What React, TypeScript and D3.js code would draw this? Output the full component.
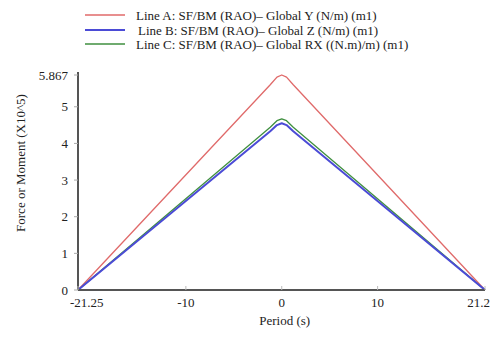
import React, { useRef, useEffect } from "react";
import * as d3 from "d3";

const periods = [-21.25, -1.2, -0.5, 0, 0.5, 1.2, 21.2];
const lineA = [0, 5.6, 5.81, 5.867, 5.81, 5.6, 0];
const lineB = [0, 4.33, 4.5, 4.55, 4.5, 4.33, 0];
const lineC = [0, 4.44, 4.62, 4.67, 4.62, 4.44, 0];

const seriesNames = [
  "Line A: SF/BM (RAO)\u2013 Global Y (N/m) (m1)",
  "Line B: SF/BM (RAO)\u2013 Global Z (N/m) (m1)",
  "Line C: SF/BM (RAO)\u2013 Global RX ((N.m)/m) (m1)",
];
const seriesColors = ["#e06a6a", "#4b4bd6", "#3f8f3f"];

const xTicks = [-21.25, -10, 0, 10, 21.2];
const yTicks = [0, 1, 2, 3, 4, 5, 5.867];

function App() {
  const svgRef = useRef<SVGSVGElement>(null);

  useEffect(() => {
    const svg = d3.select(svgRef.current);
    svg.selectAll("*").remove();

    const left = 78, right = 485, top = 75, bottom = 290;
    const font = "'Liberation Serif', 'Times New Roman', serif";

    const x = d3.scaleLinear().domain([-21.25, 21.2]).range([left, right]);
    const y = d3.scaleLinear().domain([0, 5.867]).range([bottom, top]);

    // legend
    const legend = svg.append("g");
    const legendY = [15, 30, 44];
    seriesNames.forEach((name, i) => {
      legend
        .append("line")
        .attr("x1", 85)
        .attr("x2", 125)
        .attr("y1", legendY[i])
        .attr("y2", legendY[i])
        .attr("stroke", seriesColors[i])
        .attr("stroke-width", i === 1 ? 2 : 1.3);
      legend
        .append("text")
        .attr("x", i === 1 ? 138 : 136)
        .attr("y", legendY[i])
        .attr("dy", "0.35em")
        .attr("font-family", font)
        .attr("font-size", 13)
        .attr("fill", "#222")
        .text(name);
    });

    // lines
    const data = [lineA, lineC, lineB];
    const colors = [seriesColors[0], seriesColors[2], seriesColors[1]];
    const line = d3
      .line<number>()
      .x((_, i) => x(periods[i]))
      .y(d => y(d));
    data.forEach((vals, i) => {
      svg
        .append("path")
        .attr("d", line(vals))
        .attr("fill", "none")
        .attr("stroke", colors[i])
        .attr("stroke-width", i === 2 ? 2 : 1.3)
        .attr("stroke-linejoin", "round");
    });

    // axes
    const axisColor = "#555";
    svg
      .append("line")
      .attr("x1", left).attr("x2", left)
      .attr("y1", top - 3).attr("y2", bottom)
      .attr("stroke", axisColor).attr("stroke-width", 2);
    svg
      .append("line")
      .attr("x1", left).attr("x2", right)
      .attr("y1", bottom).attr("y2", bottom)
      .attr("stroke", axisColor).attr("stroke-width", 2);

    const yg = svg.append("g");
    yTicks.forEach(t => {
      yg.append("line")
        .attr("x1", left - 4).attr("x2", left)
        .attr("y1", y(t)).attr("y2", y(t))
        .attr("stroke", "#aaa");
      yg.append("text")
        .attr("x", left - 10)
        .attr("y", y(t))
        .attr("dy", "0.35em")
        .attr("text-anchor", "end")
        .attr("font-family", font)
        .attr("font-size", 13)
        .attr("fill", "#222")
        .text(t === 5.867 ? "5.867" : d3.format("d")(t));
    });

    const xg = svg.append("g");
    xTicks.forEach((t, i) => {
      xg.append("line")
        .attr("x1", x(t)).attr("x2", x(t))
        .attr("y1", bottom - 4).attr("y2", bottom)
        .attr("stroke", "#bbb");
      const first = i === 0, last = i === xTicks.length - 1;
      xg.append("text")
        .attr("x", first ? x(t) - 8 : last ? 490 : x(t))
        .attr("y", bottom + 17)
        .attr("text-anchor", first ? "start" : last ? "end" : "middle")
        .attr("font-family", font)
        .attr("font-size", 13)
        .attr("fill", "#222")
        .text(String(t));
    });

    svg
      .append("text")
      .attr("x", x(0) + 3)
      .attr("y", 325)
      .attr("text-anchor", "middle")
      .attr("font-family", font)
      .attr("font-size", 13)
      .attr("fill", "#222")
      .text("Period (s)");

    svg
      .append("text")
      .attr("transform", `translate(25, 163) rotate(-90)`)
      .attr("text-anchor", "middle")
      .attr("font-family", font)
      .attr("font-size", 13)
      .attr("fill", "#222")
      .text("Force or Moment (X10^5)");
  }, []);

  return (
    <svg
      ref={svgRef}
      width={491}
      height={341}
      style={{ position: "absolute", left: 0, top: 0, background: "#fff" }}
    />
  );
}

export default App;
